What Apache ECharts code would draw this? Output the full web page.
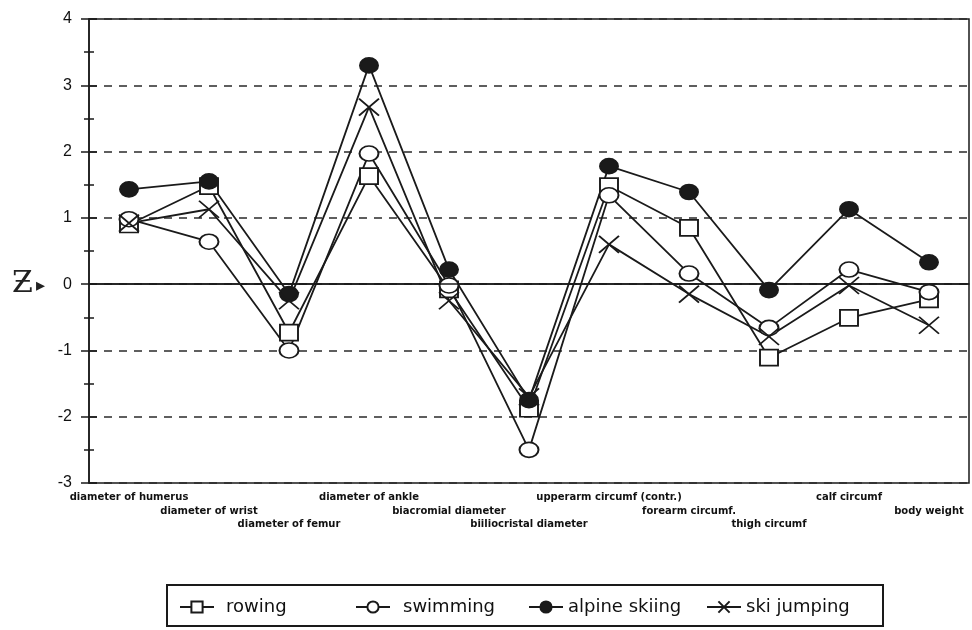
<!DOCTYPE html>
<html>
<head>
<meta charset="utf-8">
<script src="https://cdn.jsdelivr.net/npm/echarts@6/dist/echarts.min.js"></script>
<style>
  html, body { margin: 0; padding: 0; background: #fff; }
  #chart { width: 972px; height: 630px; }
</style>
</head>
<body>
<div id="chart"></div>
<script>
// Anthropometric z-scores per sport
const categories = [
  'diameter of humerus', 'diameter of wrist', 'diameter of femur', 'diameter of ankle',
  'biacromial diameter', 'biiliocristal diameter', 'upperarm circumf (contr.)',
  'forearm circumf.', 'thigh circumf', 'calf circumf', 'body weight'
];
const rowing       = [0.90, 1.48, -0.73, 1.63, -0.08, -1.88, 1.48, 0.85, -1.11, -0.51, -0.23];
const swimming     = [0.98, 0.64, -1.00, 1.97, -0.02, -2.50, 1.34, 0.16, -0.66, 0.22, -0.12];
const alpineSkiing = [1.43, 1.55, -0.15, 3.30, 0.22, -1.75, 1.78, 1.39, -0.09, 1.13, 0.33];
const skiJumping   = [0.92, 1.13, -0.25, 2.67, -0.25, -1.70, 0.60, -0.15, -0.79, -0.02, -0.62];
const yTicks = { min: -3, max: 4, step: 1 };

const INK = '#1a1a1a';
const FONT = '"Liberation Sans", Arial, sans-serif';
const WIDE = '"DejaVu Sans", sans-serif';
const CROSS = 'path://M0,0L20,20M20,0L0,20';

const chart = echarts.init(document.getElementById('chart'), null, { renderer: 'canvas' });

function lineSeries(name, data, symbol, size, fill, extra) {
  return Object.assign({
    name: name,
    type: 'line',
    data: data,
    symbol: symbol,
    symbolSize: size,
    showAllSymbol: true,
    lineStyle: { color: INK, width: 1.8 },
    itemStyle: { color: fill, borderColor: INK, borderWidth: 1.8 },
    emphasis: { disabled: true },
    animation: false
  }, extra || {});
}

function legendAt(left, name, gap) {
  return {
    left: left,
    top: 598,
    padding: 0,
    itemWidth: 34,
    itemHeight: 14,
    data: [name],
    selectedMode: false,
    textStyle: { fontSize: 18, fontFamily: WIDE, color: '#111', padding: [0, 0, 0, gap] }
  };
}

chart.setOption({
  backgroundColor: '#fff',
  animation: false,
  grid: {
    left: 89, right: 3, top: 19, bottom: 147,
    show: true, borderColor: INK, borderWidth: 1.5, backgroundColor: 'transparent'
  },
  legend: [
    legendAt(179, 'rowing', 7),
    legendAt(355, 'swimming', 8),
    legendAt(528, 'alpine skiing', 0),
    legendAt(706, 'ski jumping', 0)
  ],
  xAxis: [
    {
      type: 'category',
      data: categories,
      boundaryGap: true,
      axisLine: { lineStyle: { color: INK, width: 1.5 } },
      axisTick: { alignWithLabel: true, length: 8, lineStyle: { color: INK, width: 1.5 } },
      axisLabel: {
        interval: 0,
        margin: 8,
        fontSize: 10,
        fontWeight: 'bold',
        fontFamily: WIDE,
        color: '#111',
        lineHeight: 13.5,
        formatter: function (v, i) { return '\n'.repeat(i % 3) + v; }
      },
      splitLine: { show: false }
    },
    {
      type: 'category',
      data: categories,
      position: 'bottom',
      boundaryGap: true,
      axisLine: { show: false },
      axisTick: { inside: true, alignWithLabel: true, length: 8, lineStyle: { color: INK, width: 1.5 } },
      axisLabel: { show: false },
      splitLine: { show: false }
    }
  ],
  yAxis: [
    {
      type: 'value',
      position: 'left',
      min: yTicks.min, max: yTicks.max, interval: yTicks.step,
      axisLine: { show: true, lineStyle: { color: INK, width: 1.5 } },
      axisTick: { show: true, length: 8, lineStyle: { color: INK, width: 1.5 } },
      minorTick: { show: true, splitNumber: 2, length: 5, lineStyle: { color: INK, width: 1.5 } },
      axisLabel: { margin: 17, fontSize: 16, fontFamily: FONT, color: '#111' },
      splitLine: { show: true, lineStyle: { color: '#2a2a2a', width: 1.5, type: [8, 7] } }
    },
    {
      type: 'value',
      position: 'left',
      min: yTicks.min, max: yTicks.max, interval: yTicks.step,
      axisLine: { show: false },
      axisTick: { show: true, inside: true, length: 8, lineStyle: { color: INK, width: 1.5 } },
      minorTick: { show: true, splitNumber: 2, length: 5, lineStyle: { color: INK, width: 1.5 } },
      axisLabel: { show: false },
      splitLine: { show: false }
    }
  ],
  graphic: [
    {
      type: 'rect',
      shape: { x: 167, y: 585, width: 716, height: 41 },
      style: { fill: 'none', stroke: INK, lineWidth: 2 },
      silent: true
    },
    {
      type: 'text',
      left: 12, top: 269,
      style: { text: 'Ƶ', fontSize: 30, fontFamily: '"DejaVu Serif", serif', fill: '#222' },
      silent: true
    },
    {
      type: 'text',
      left: 36, top: 277,
      style: { text: '▸', fontSize: 18, fontFamily: WIDE, fill: '#222' },
      silent: true
    }
  ],
  series: [
    lineSeries('rowing', rowing, 'rect', [18, 16], '#fff', {
      markLine: {
        silent: true,
        symbol: 'none',
        label: { show: false },
        lineStyle: { type: 'solid', color: INK, width: 1.5 },
        data: [{ yAxis: 0 }],
        animation: false
      }
    }),
    lineSeries('swimming', swimming, 'circle', [19, 15], '#fff'),
    lineSeries('alpine skiing', alpineSkiing, 'circle', [18, 15], INK),
    lineSeries('ski jumping', skiJumping, CROSS, [20, 17], INK)
  ]
});
</script>
</body>
</html>
